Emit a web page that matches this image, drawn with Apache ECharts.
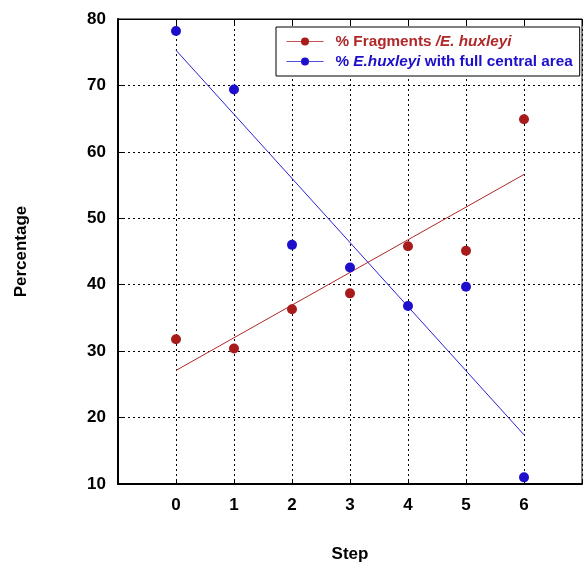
<!DOCTYPE html>
<html><head><meta charset="utf-8">
<script src="https://cdn.jsdelivr.net/npm/echarts@6/dist/echarts.min.js"></script>
<style>html,body{margin:0;padding:0;background:#fff}#c{width:583px;height:562px}</style>
</head><body><div id="c"></div>
<script>
const steps = [0, 1, 2, 3, 4, 5, 6];
const fragments = [31.8, 30.4, 36.3, 38.7, 45.8, 45.1, 64.9];
const fullCentral = [78.2, 69.4, 46.0, 42.6, 36.8, 39.7, 11.0];
const fitSteps = [0, 6];
const fragmentsFit = [27.1, 56.6];
const fullCentralFit = [75.3, 17.4];
const yTicks = [10, 20, 30, 40, 50, 60, 70, 80];

const nameR = '% Fragments /E. huxleyi';
const nameB = '% E.huxleyi with full central area';
const redM = '#a81b1b', blueM = '#1d0fcc';
const redL = '#b02828', blueL = '#2a22d6';
const F = '"Liberation Sans", Arial, sans-serif';

const chart = echarts.init(document.getElementById('c'), null, {renderer: 'canvas'});
const pts = (ys) => steps.map((x, i) => [x, ys[i]]);
const fit = (ys) => fitSteps.map((x, i) => [x, ys[i]]);
const LS = 15.3;

chart.setOption({
  animation: false,
  backgroundColor: '#fff',
  grid: {left: 118, right: 1, top: 19, bottom: 78, outerBoundsMode: 'none', containLabel: false,
    show: true, borderColor: '#000', borderWidth: 1},
  legend: {
    left: 276, top: 27, orient: 'vertical',
    data: [
      {name: nameR, lineStyle: {width: 1, color: '#c85050', opacity: 1}, itemStyle: {color: redM}},
      {name: nameB, lineStyle: {width: 1, color: '#5050e0', opacity: 1}, itemStyle: {color: blueM}}
    ],
    itemWidth: 37, itemHeight: 10, itemGap: 5,
    padding: [7, 7, 7, 10],
    borderColor: '#000', borderWidth: 1, backgroundColor: '#fff',
    textStyle: {fontFamily: F, fontSize: LS, fontWeight: 'bold',
      rich: {
        r: {color: redL, fontFamily: F, fontSize: LS, fontWeight: 'bold', padding: [0, 0, 0, 7]},
        ri: {color: redL, fontFamily: F, fontSize: LS, fontWeight: 'bold', fontStyle: 'italic'},
        b: {color: blueM, fontFamily: F, fontSize: LS, fontWeight: 'bold', padding: [0, 0, 0, 7]},
        bi: {color: blueM, fontFamily: F, fontSize: LS, fontWeight: 'bold', fontStyle: 'italic'},
        b2: {color: blueM, fontFamily: F, fontSize: LS, fontWeight: 'bold'}
      }},
    formatter: function (n) {
      if (n === nameR) return '{r|% Fragments }{ri|/E. huxleyi}';
      return '{b|% }{bi|E.huxleyi}{b2| with full central area}';
    }
  },
  xAxis: [{
    type: 'value', min: -1, max: 7, interval: 1,
    name: 'Step', nameLocation: 'middle', nameGap: 62,
    nameTextStyle: {fontFamily: F, fontSize: 17, fontWeight: 'bold', color: '#000'},
    axisLine: {show: true, onZero: false, lineStyle: {color: '#000', width: 2}},
    axisTick: {show: true, inside: true, length: 5, lineStyle: {color: '#000'}},
    axisLabel: {fontFamily: F, fontSize: 17, fontWeight: 'bold', color: '#000', margin: 13,
      formatter: v => (v < 0 || v > 6) ? '' : String(v)},
    splitLine: {show: true, lineStyle: {color: '#000', type: [2, 3], width: 1}}
  }, {
    type: 'value', min: -1, max: 7, interval: 1, position: 'top',
    axisLine: {show: true, onZero: false, lineStyle: {color: '#000', width: 1}},
    axisTick: {show: true, inside: true, length: 5, lineStyle: {color: '#000'}},
    axisLabel: {show: false}, splitLine: {show: false}
  }],
  yAxis: {
    type: 'value', min: 10, max: 80, interval: 10,
    name: 'Percentage', nameLocation: 'middle', nameGap: 88,
    nameTextStyle: {fontFamily: F, fontSize: 17, fontWeight: 'bold', color: '#000'},
    axisLine: {show: true, onZero: false, lineStyle: {color: '#000', width: 2}},
    axisTick: {show: true, inside: true, length: 5, lineStyle: {color: '#000'}},
    axisLabel: {fontFamily: F, fontSize: 17, fontWeight: 'bold', color: '#000', margin: 12,
      formatter: v => yTicks.includes(v) ? String(v) : ''},
    splitLine: {show: true, lineStyle: {color: '#000', type: [2, 3], width: 1}}
  },
  series: [
    {name: nameR, type: 'line', data: pts(fragments), symbol: 'circle', symbolSize: 10,
      itemStyle: {color: redM}, lineStyle: {width: 0, color: redL}, z: 5},
    {name: nameB, type: 'line', data: pts(fullCentral), symbol: 'circle', symbolSize: 10,
      itemStyle: {color: blueM}, lineStyle: {width: 0, color: blueL}, z: 5},
    {name: 'fitR', type: 'line', data: fit(fragmentsFit), showSymbol: false, symbol: 'none',
      lineStyle: {width: 1, color: redL}, z: 4},
    {name: 'fitB', type: 'line', data: fit(fullCentralFit), showSymbol: false, symbol: 'none',
      lineStyle: {width: 1, color: blueL}, z: 4}
  ]
});
</script></body></html>
